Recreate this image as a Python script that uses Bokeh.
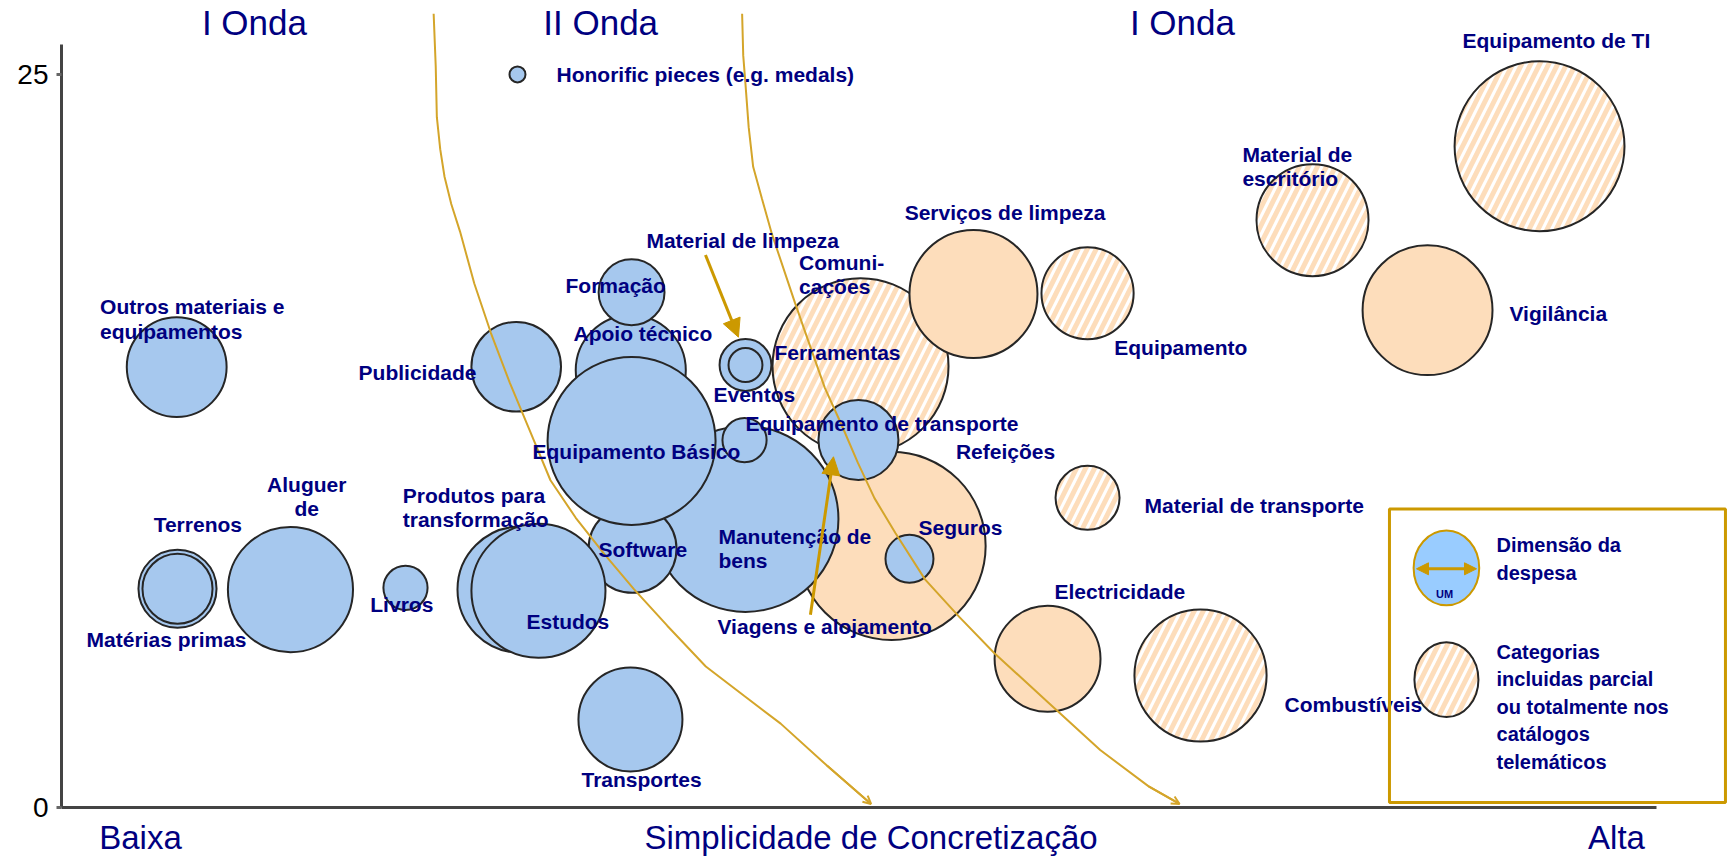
from bokeh.plotting import figure
from bokeh.models import (ColumnDataSource, Range1d, FixedTicker, Arrow,
                          NormalHead, OpenHead, BoxAnnotation)
from bokeh.core.properties import value
from bokeh.embed import file_html
from bokeh.resources import INLINE

# ---------------- data (x = simplicidade, y = impacto, dim = dimensão da despesa) -------------
blue_names = ["Honorific pieces (e.g. medals)", "Outros materiais e equipamentos", "Publicidade",
              "Apoio técnico", "Formação", "Manutenção de bens", "Software",
              "Produtos para transformação", "Estudos", "Equipamento Básico", "Eventos",
              "Ferramentas", "Equipamento de transporte", "Viagens e alojamento", "Seguros",
              "Livros", "Aluguer de", "Terrenos", "Matérias primas", "Transportes"]
blue_x = [28.5, 7.2, 28.42, 35.58, 35.63, 42.75, 35.69, 28.69, 29.81, 35.63, 42.75,
          42.75, 42.69, 49.81, 53.0, 21.5, 14.31, 7.25, 7.25, 35.56]
blue_y = [25.0, 15.02, 15.03, 14.91, 17.57, 9.84, 8.82, 7.43, 7.39, 12.5, 15.09,
          15.09, 12.53, 12.53, 8.48, 7.49, 7.43, 7.46, 7.46, 3.0]
blue_dim = [0.5, 3.12, 2.8, 3.44, 2.06, 5.81, 2.75, 3.94, 4.19, 5.25, 1.62,
            1.06, 1.38, 2.5, 1.5, 1.38, 3.91, 2.44, 2.19, 3.25]

peach_names = ["Serviços de limpeza", "Refeições", "Electricidade", "Vigilância"]
peach_x = [57.0, 51.88, 61.63, 85.38]
peach_y = [17.51, 8.92, 5.07, 16.96]
peach_dim = [4.0, 5.88, 3.31, 4.06]

hatch_names = ["Comunicações", "Equipamento", "Material de escritório", "Equipamento de TI",
               "Material de transporte", "Combustíveis"]
hatch_x = [49.94, 64.13, 78.19, 92.38, 64.13, 71.19]
hatch_y = [15.05, 17.54, 20.03, 22.55, 10.56, 4.5]
hatch_dim = [5.5, 2.88, 3.5, 5.31, 2.0, 4.13]

# labels
lab_text = ["Honorific pieces (e.g. medals)", "Outros materiais e\nequipamentos", "Publicidade",
            "Formação", "Apoio técnico", "Material de limpeza", "Comuni-\ncações", "Ferramentas",
            "Eventos", "Equipamento de transporte", "Equipamento Básico", "Refeições",
            "Serviços de limpeza", "Equipamento", "Material de\nescritório", "Equipamento de TI",
            "Vigilância", "Material de transporte", "Electricidade", "Combustíveis", "Seguros",
            "Manutenção de\nbens", "Software", "Estudos", "Viagens e alojamento", "Transportes",
            "Produtos para\ntransformação", "Livros", "Terrenos", "Matérias primas"]
lab_x = [30.94, 2.41, 18.57, 31.5, 32.0, 36.56, 46.1, 44.56, 40.75, 42.75, 29.44, 55.9,
         52.7, 65.8, 73.81, 87.56, 90.5, 67.69, 62.06, 76.44, 53.56, 41.06, 33.56, 29.06,
         41.0, 32.5, 21.33, 19.3, 5.76, 1.57]
lab_y = [25.0, 16.66, 14.85, 17.81, 16.18, 19.35, 18.19, 15.53, 14.07, 13.11, 12.13, 12.13,
         20.3, 15.7, 21.87, 26.16, 16.86, 10.29, 7.36, 3.51, 9.54, 8.82, 8.79, 6.34,
         6.17, 0.95, 10.24, 6.91, 9.64, 5.72]
clab_text = ["Aluguer\nde"]
clab_x = [15.33]
clab_y = [10.6]

wave_text = ["I Onda", "II Onda", "I Onda"]
wave_x = [12.06, 33.7, 70.06]
wave_y = [26.77, 26.77, 26.77]

curveA_x = [23.26, 23.39, 23.46, 23.67, 23.94, 24.36, 24.91, 25.80, 26.84, 28.01, 29.25,
            30.56, 32.14, 33.93, 35.79, 37.86, 40.27, 42.68, 44.95, 47.84, 50.60]
curveA_y = [27.07, 25.27, 23.54, 22.45, 21.51, 20.58, 19.64, 17.87, 16.18, 14.50, 12.88,
            11.16, 9.88, 8.64, 7.44, 6.20, 4.81, 3.80, 2.86, 1.43, 0.12]
curveB_x = [42.54, 42.61, 42.75, 42.95, 43.23, 43.78, 44.40, 45.85, 46.81, 47.71, 48.74,
            49.77, 50.81, 52.12, 53.97, 56.11, 58.31, 61.62, 64.92, 67.95, 69.88]
curveB_y = [27.07, 25.64, 24.67, 23.20, 21.85, 20.76, 19.56, 17.20, 15.70, 14.31, 13.07,
            11.76, 10.55, 9.36, 7.78, 6.50, 5.26, 3.61, 1.96, 0.72, 0.12]

y_ticks = [0, 25]
x_axis_text = ["Baixa", "Simplicidade de Concretização", "Alta"]
x_axis_pos = [4.94, 50.6, 97.19]

# ---------------- styles ----------------
BLUE = "#A6C8EE"
PEACH = "#FDDDBB"
GOLD = "#CC9900"
CURVE = "#D4A52A"
NAVY = "#000080"
EDGE = "#262626"
FONT = "Liberation Sans"

p = figure(width=1728, height=858, output_backend="svg", toolbar_location=None,
           x_range=Range1d(0, 104.19), y_range=Range1d(0, 27.52),
           min_border_left=61, min_border_right=0, min_border_top=0, min_border_bottom=50)
p.outline_line_color = None
p.xgrid.visible = False
p.ygrid.visible = False
p.background_fill_color = "white"
p.border_fill_color = "white"

p.xaxis.ticker = FixedTicker(ticks=x_axis_pos)
p.xaxis.major_label_overrides = {pos: txt for pos, txt in zip(x_axis_pos, x_axis_text)}
p.xaxis.bounds = (0, 99.7)
p.xaxis.axis_line_width = 3
p.xaxis.axis_line_color = "#444444"
p.xaxis.major_tick_line_color = None
p.xaxis.major_tick_out = 0
p.xaxis.major_tick_in = 0
p.xaxis.minor_tick_line_color = None
p.xaxis.major_label_standoff = 11
p.xaxis.major_label_text_font = FONT
p.xaxis.major_label_text_font_size = "33px"
p.xaxis.major_label_text_color = NAVY

p.yaxis.ticker = FixedTicker(ticks=y_ticks)
p.yaxis.bounds = (0, 26.02)
p.yaxis.axis_line_width = 3
p.yaxis.axis_line_color = "#444444"
p.yaxis.major_tick_line_color = "#666666"
p.yaxis.major_tick_line_width = 3
p.yaxis.major_tick_out = 5
p.yaxis.major_tick_in = 0
p.yaxis.minor_tick_line_color = None
p.yaxis.major_label_standoff = 8
p.yaxis.major_label_text_font = FONT
p.yaxis.major_label_text_font_size = "28px"
p.yaxis.major_label_text_color = "black"

# bubbles
hsrc = ColumnDataSource(dict(x=hatch_x, y=hatch_y, r=hatch_dim, name=hatch_names))
psrc = ColumnDataSource(dict(x=peach_x, y=peach_y, r=peach_dim, name=peach_names))
bsrc = ColumnDataSource(dict(x=blue_x, y=blue_y, r=blue_dim, name=blue_names))

p.circle("x", "y", radius="r", source=hsrc, fill_color="white", hatch_pattern="/",
         hatch_color=PEACH, hatch_weight=5, hatch_scale=18,
         line_color=EDGE, line_width=2)
p.circle("x", "y", radius="r", source=psrc, fill_color=PEACH, line_color=EDGE, line_width=2)
p.circle("x", "y", radius="r", source=bsrc, fill_color=BLUE, line_color=EDGE, line_width=2)

# curves separating the waves (drawn over the bubbles)
p.line(curveA_x, curveA_y, line_color=CURVE, line_width=2)
p.line(curveB_x, curveB_y, line_color=CURVE, line_width=2)
for cx, cy in ((curveA_x, curveA_y), (curveB_x, curveB_y)):
    p.add_layout(Arrow(end=OpenHead(size=8, line_color=CURVE, line_width=2),
                       x_start=cx[-2], y_start=cy[-2], x_end=cx[-1], y_end=cy[-1],
                       line_color=CURVE, line_width=2))

# gold pointer arrows
p.add_layout(Arrow(end=NormalHead(size=18, fill_color=GOLD, line_color=GOLD),
                   x_start=40.25, y_start=18.84, x_end=42.31, y_end=16.04,
                   line_color=GOLD, line_width=3))
p.add_layout(Arrow(end=NormalHead(size=18, fill_color=GOLD, line_color=GOLD),
                   x_start=46.81, y_start=6.57, x_end=48.25, y_end=11.96,
                   line_color=GOLD, line_width=3))

# labels
lsrc = ColumnDataSource(dict(x=lab_x, y=lab_y, t=lab_text))
p.text("x", "y", text="t", source=lsrc, text_font=value(FONT), text_font_style="bold",
       text_font_size="21px", text_color=NAVY, text_align="left", text_baseline="middle",
       text_line_height=1.05)
csrc = ColumnDataSource(dict(x=clab_x, y=clab_y, t=clab_text))
p.text("x", "y", text="t", source=csrc, text_font=value(FONT), text_font_style="bold",
       text_font_size="21px", text_color=NAVY, text_align="center", text_baseline="middle",
       text_line_height=1.05)

wsrc = ColumnDataSource(dict(x=wave_x, y=wave_y, t=wave_text))
p.text("x", "y", text="t", source=wsrc, text_font=value(FONT), text_font_size="35px",
       text_color=NAVY, text_align="center", text_baseline="middle")

# legend
p.add_layout(BoxAnnotation(left=83.0, right=104.0, top=10.18, bottom=0.17,
                           fill_alpha=0, line_color=GOLD, line_alpha=1.0, line_width=3))
p.ellipse(x=[86.56], y=[8.17], width=[4.1], height=[2.55], fill_color="#99CCFF",
          line_color=GOLD, line_width=2)
p.add_layout(Arrow(start=NormalHead(size=12, fill_color=GOLD, line_color=GOLD),
                   end=NormalHead(size=12, fill_color=GOLD, line_color=GOLD),
                   x_start=84.69, y_start=8.14, x_end=88.44, y_end=8.14,
                   line_color=GOLD, line_width=3))
p.text(x=[86.44], y=[7.29], text=["UM"], text_font=value(FONT), text_font_style="bold",
       text_font_size="11px", text_color=NAVY, text_align="center", text_baseline="middle")
p.ellipse(x=[86.56], y=[4.36], width=[4.0], height=[2.55], fill_color="white",
          hatch_pattern="/", hatch_color=PEACH, hatch_weight=5, hatch_scale=18,
          line_color=EDGE, line_width=2)
p.text(x=[89.69, 89.69], y=[8.48, 3.44],
       text=["Dimensão da\ndespesa",
             "Categorias\nincluidas parcial\nou totalmente nos\ncatálogos\ntelemáticos"],
       text_font=value(FONT), text_font_style="bold", text_font_size="20px", text_color=NAVY,
       text_align="left", text_baseline="middle", text_line_height=1.25)

open("out.html", "w").write(file_html(p, INLINE))
